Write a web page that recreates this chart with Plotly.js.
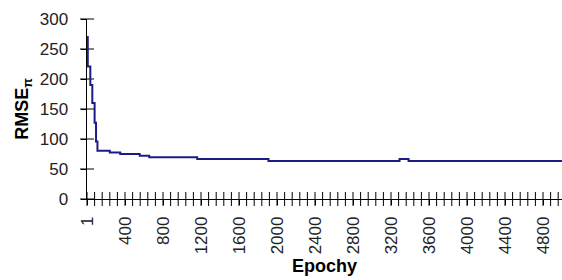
<!DOCTYPE html>
<html>
<head>
<meta charset="utf-8">
<script src="https://cdn.plot.ly/plotly-3.0.1.min.js"></script>
<style>html,body{margin:0;padding:0;background:#fff;}#chart{width:562px;height:280px;}</style>
</head>
<body>
<div id="chart"></div>
<script>
// Data
const epochs = [1, 8, 35, 56, 80, 95, 110, 240, 350, 555, 655, 1160, 1910, 3290, 3385, 5000];
const rmse   = [270, 221, 190, 160, 127, 96, 80.5, 77.7, 75, 72.2, 69.4, 66.7, 63.3, 66.7, 63.3, 63.3];
const xTickVals = [1, 400, 800, 1200, 1600, 2000, 2400, 2800, 3200, 3600, 4000, 4400, 4800];
const xTickText = ["1", "400", "800", "1200", "1600", "2000", "2400", "2800", "3200", "3600", "4000", "4400", "4800"];
const xTickStep = 80;
const yTickVals = [0, 50, 100, 150, 200, 250, 300];
const xTitle = "Epochy";
const yTitle = "RMSE<sub>π</sub>";

const tickFont = {family: "Liberation Sans, Arial, sans-serif", size: 17, color: "#222"};
const titleFont = {family: "Liberation Sans, Arial, sans-serif", size: 18, color: "#000", weight: "bold"};
const xRange = [0, 5000], yRange = [0, 300];

// cross-shaped tick marks, placed through the axes' own scales
const xCross = [];
for (let v = 0; v < xRange[1]; v += xTickStep) xCross.push(v);

const trace = {
  x: epochs, y: rmse, type: "scatter", mode: "lines",
  line: {color: "#1c1c86", width: 2, shape: "hv"},
  hoverinfo: "skip", cliponaxis: false
};
const xTicksTrace = {
  x: xCross, y: xCross.map(() => yRange[0]), type: "scatter", mode: "markers",
  marker: {symbol: "line-ns-open", size: 10, color: "#000", line: {color: "#000", width: 1}},
  hoverinfo: "skip", cliponaxis: false
};
const yTicksTrace = {
  x: yTickVals.map(() => xRange[0]), y: yTickVals, type: "scatter", mode: "markers",
  marker: {symbol: "line-ew-open", size: 10, color: "#000", line: {color: "#000", width: 1}},
  hoverinfo: "skip", cliponaxis: false
};

const layout = {
  width: 562, height: 280,
  margin: {l: 87, r: 0, t: 19, b: 81, pad: 0},
  paper_bgcolor: "#fff", plot_bgcolor: "#fff",
  showlegend: false,
  xaxis: {
    range: xRange, showgrid: false, zeroline: false,
    showline: true, linecolor: "#000", linewidth: 1,
    tickmode: "array", tickvals: xTickVals, ticktext: xTickText.map(t => t + "\u00a0\u200b"),
    ticks: "outside", ticklen: 5, tickcolor: "#000", tickwidth: 1,
    tickangle: -90, tickfont: tickFont,
    title: {text: "<b>" + xTitle + "</b>", font: titleFont, standoff: 6},
    automargin: false
  },
  yaxis: {
    range: yRange, showgrid: false, zeroline: false,
    showline: true, linecolor: "#000", linewidth: 1,
    tickmode: "array", tickvals: yTickVals, ticktext: yTickVals.map(v => v + "\u00a0\u00a0\u200b"),
    ticks: "outside", ticklen: 5, tickcolor: "#000", tickwidth: 1,
    tickfont: tickFont,
    title: {text: "<b>" + yTitle + "</b>", font: titleFont, standoff: 6},
    automargin: false
  }
};

Plotly.newPlot("chart", [xTicksTrace, yTicksTrace, trace], layout, {staticPlot: true, displayModeBar: false});
</script>
</body>
</html>
